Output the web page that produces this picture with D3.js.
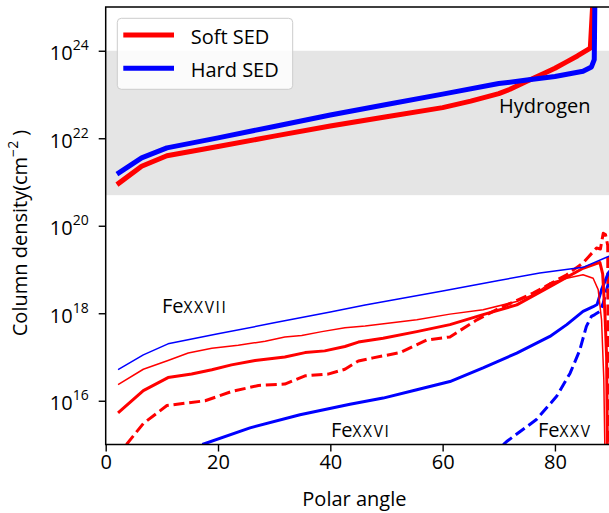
<!DOCTYPE html>
<html><head><meta charset="utf-8">
<script src="https://cdn.jsdelivr.net/npm/d3@7"></script>
<style>body{margin:0;background:#fff}svg{display:block;font-family:"Open Sans",sans-serif}</style>
</head><body><svg id="c" width="609" height="513"></svg>
<script>
// ---- data (polar angle in degrees, column density in cm^-2) ----
const hSoftAngle = [2,6.4,10.9,20,30,40,50,60,65,70,72,75,78,80,82,84,86.3,86.7,86.9];
const hSoftValue = [8.71e20,2.29e21,3.98e21,6.46e21,1.12e22,1.91e22,3.09e22,5.01e22,7.08e22,1.05e23,1.32e23,2.0e23,3.02e23,3.98e23,5.50e23,7.59e23,1.15e24,1e25,1e26];
const hHardAngle = [2,6.4,10.9,20,30,40,50,60,70,75,80,85,86.5,87.0,87.1,87.15];
const hHardValue = [1.51e21,3.55e21,6.03e21,1.02e22,1.86e22,3.39e22,5.89e22,1.02e23,1.78e23,2.14e23,2.57e23,3.39e23,4.27e23,6.3e23,1e25,1e26];

const fe27HardAngle = [2.2,6.7,11.1,20,30,40,46.2,60,70,77.3,85,89.2,90];
const fe27HardValue = [5.13e16,1.12e17,2.0e17,3.39e17,6.03e17,1.07e18,1.55e18,3.24e18,5.62e18,8.32e18,1.12e19,1.91e19,2.09e19];
const fe27SoftAngle = [2.2,6.7,11.1,14.7,18.9,23.6,28.4,31.9,34.9,38.5,42.6,46.2,55.4,61.3,67.2,73.2,76.7,79.1,82.1,85.0,86.8,87.7,88.3,88.7,89.0];
const fe27SoftValue = [2.34e16,5.25e16,8.32e16,1.23e17,1.58e17,1.86e17,2.29e17,2.88e17,3.09e17,3.80e17,4.68e17,5.13e17,7.08e17,9.55e17,1.20e18,1.86e18,2.88e18,4.90e18,6.31e18,7.59e18,6.31e18,3.47e18,7.08e17,3.16e16,1e14];

const fe26SoftAngle = [2.2,6.7,11.1,15.3,18.9,22.4,26.6,31.9,35.5,39.0,42.6,45.0,49.4,55.4,61.3,67.2,73.2,79.1,85.0,88.0,88.5,88.9,89.2,89.4];
const fe26SoftValue = [5.25e15,1.70e16,3.39e16,4.07e16,5.13e16,6.61e16,8.32e16,1.0e17,1.26e17,1.38e17,1.74e17,2.19e17,2.69e17,3.80e17,5.50e17,9.33e17,1.55e18,4.07e18,1.07e19,1.45e19,7.94e18,1e18,1e17,1e14];
const fe26HardAngle = [17.2,25.7,34.6,43.5,49.4,55.4,61.3,67.2,73.2,79.1,82.1,85.0,86.8,87.5,88.3,89.5,90];
const fe26HardValue = [1.0e15,2.40e15,4.79e15,8.32e15,1.15e16,1.78e16,2.75e16,5.62e16,1.23e17,2.95e17,5.50e17,1.10e18,1.41e18,1.58e18,3.47e18,8.32e18,1e19];

const fe25SoftAngle = [3.7,6.7,10.9,17.7,22.4,27.2,31.9,35.5,39.6,42.6,45.0,47.6,52.4,57.2,61.3,66.1,70.2,76.1,82.1,85.0,87.4,88.1,88.6,89.0,89.4,89.5];
const fe25SoftValue = [1e15,3.02e15,7.76e15,1.0e16,1.62e16,2.24e16,2.40e16,3.72e16,4.07e16,5.25e16,8.13e16,9.55e16,1.26e17,2.45e17,2.88e17,7.08e17,1.32e18,2.88e18,7.59e18,1.41e19,3.09e19,2.95e19,6.76e19,6.31e19,3.55e19,1e14];
const fe25HardAngle = [70.8,71.4,76.7,80.3,82.7,84.4,85.6,86.5,87.1,88.0,88.6,89.2,90];
const fe25HardValue = [1e15,1.17e15,3.72e15,1.26e16,4.27e16,1.41e17,5.01e17,8.51e17,9.33e17,1.10e18,1.70e18,3.47e18,7.94e18];

const xTicks = [0,20,40,60,80];
const yTicksExp = [16,18,20,22,24];
const bandRange = [5e20, 1e24];
const legendLabels = ["Soft SED","Hard SED"];

// ---- layout ----
const svg = d3.select("#c");
const L = 105.7, R = 611.1, T = 7, B = 444.5;
const x = d3.scaleLinear().domain([0,90]).range([L,R]);
const y = d3.scaleLog().domain([1e15,1e25]).range([B,T]);
const RED = "#ff0000", BLUE = "#0000ff";

svg.append("defs").append("clipPath").attr("id","clip")
  .append("rect").attr("x",L).attr("y",T).attr("width",R-L).attr("height",B-T);

// band
svg.append("rect").attr("x",L).attr("width",R-L)
  .attr("y",y(bandRange[1])).attr("height",y(bandRange[0])-y(bandRange[1]))
  .attr("fill","#e5e5e5");

const g = svg.append("g").attr("clip-path","url(#clip)");
const line = d3.line().x(d=>x(d[0])).y(d=>y(d[1]));
function series(a,v,color,w,dash){
  g.append("path").datum(a.map((t,i)=>[t,v[i]]))
    .attr("d",line).attr("fill","none").attr("stroke",color)
    .attr("stroke-width",w).attr("stroke-linejoin","round")
    .attr("stroke-dasharray",dash||null);
}
series(fe25HardAngle,fe25HardValue,BLUE,3,"11,4.8");
series(fe25SoftAngle,fe25SoftValue,RED,3,"11,4.8");
series(fe26HardAngle,fe26HardValue,BLUE,3);
series(fe26SoftAngle,fe26SoftValue,RED,3);
series(fe27SoftAngle,fe27SoftValue,RED,1.5);
series(fe27HardAngle,fe27HardValue,BLUE,1.5);
series(hSoftAngle,hSoftValue,RED,5);
series(hHardAngle,hHardValue,BLUE,5);

// axes
const xAxis = svg.append("g").attr("transform",`translate(0,${B})`)
  .call(d3.axisBottom(x).tickValues(xTicks).tickSize(7).tickPadding(3).tickFormat(d3.format("d")));
const yAxis = svg.append("g").attr("transform",`translate(${L},0)`)
  .call(d3.axisLeft(y).tickValues(yTicksExp.map(e=>Math.pow(10,e))).tickSize(7).tickFormat(""));
[xAxis,yAxis].forEach(a=>{
  a.select(".domain").remove();
  a.selectAll(".tick line").attr("stroke","#000").attr("stroke-width",1.4);
});
xAxis.selectAll(".tick text").attr("font-size",20).attr("fill","#000")
  .attr("font-family","Open Sans").attr("dy","0.72em");
yAxis.selectAll(".tick").each(function(d,i){
  const t = d3.select(this).append("text").attr("x",-17).attr("y",9)
    .attr("text-anchor","end").attr("fill","#000").attr("font-size",20).attr("font-family","Open Sans");
  t.append("tspan").text("10");
  t.append("tspan").attr("font-size",14).attr("dy",-10).text(yTicksExp[i]);
});
// spines
svg.append("rect").attr("x",L).attr("y",T).attr("width",R-L).attr("height",B-T)
  .attr("fill","none").attr("stroke","#000").attr("stroke-width",1.5);

// axis labels
svg.append("text").attr("x",(L+R)/2-4).attr("y",506).attr("text-anchor","middle")
  .attr("font-size",20).attr("fill","#000").text("Polar angle");
const yl = svg.append("text").attr("transform","translate(27,233) rotate(-90)")
  .attr("text-anchor","middle").attr("font-size",20).attr("fill","#000");
yl.append("tspan").text("Column density(cm");
yl.append("tspan").attr("font-size",14).attr("dy",-9).text("\u22122");
yl.append("tspan").attr("dy",9).text("\u00a0)");

// annotations
svg.append("text").attr("x",499).attr("y",112.7).attr("font-size",20).attr("fill","#000").text("Hydrogen");
function ion(xp,yp,num){
  const t = svg.append("text").attr("x",xp).attr("y",yp).attr("font-size",20).attr("fill","#000");
  t.append("tspan").text("Fe");
  t.append("tspan").attr("font-size",15.5).attr("letter-spacing",1.6).text(num);
}
ion(162,313.3,"XXVII");
ion(331,436.5,"XXVI");
ion(538,436.5,"XXV");

// legend
const lg = svg.append("g");
lg.append("rect").attr("x",117.3).attr("y",18.3).attr("width",175.4).attr("height",71)
  .attr("rx",4).attr("fill","#fff").attr("fill-opacity",0.85).attr("stroke","#cccccc").attr("stroke-width",1);
[RED,BLUE].forEach((c,i)=>{
  const yy = 35 + i*33.3;
  lg.append("line").attr("x1",123.3).attr("x2",174).attr("y1",yy).attr("y2",yy)
    .attr("stroke",c).attr("stroke-width",5);
  lg.append("text").attr("x",190.7).attr("y",yy+8.5).attr("font-size",20).attr("fill","#000").text(legendLabels[i]);
});
</script></body></html>
